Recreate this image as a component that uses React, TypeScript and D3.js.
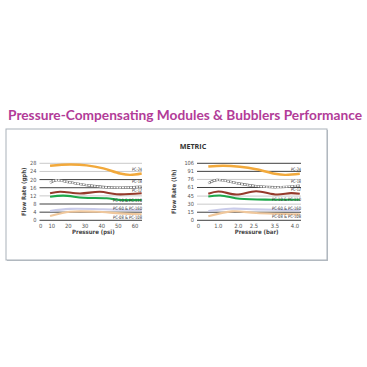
import React from 'react'
import * as d3 from 'd3'

// US chart: pressure (psi) vs flow (gph)
const psiTicks = [0, 10, 20, 30, 40, 50, 60]
const gphTicks = [0, 4, 8, 12, 16, 20, 24, 28]
const gphDark = [0, 4, 8, 16, 20]

// metric chart: pressure (bar) vs flow (l/h)
const barTicks = [0, 1.0, 2.0, 2.5, 3.5, 4.0]
const lhTicks = [0, 15, 30, 45, 61, 76, 91, 106]
const lhDark = [0, 15, 61, 91, 106]

const seriesNames = ['PC-24', 'PC-18', 'PC-12', 'PC-10 & PC-110', 'PC-60 & PC-160', 'PC-08 & PC-108']

// [psi, gph]
const pc24 = [[8.5, 26.8], [21, 27.4], [31, 27.0], [41, 25.5], [51, 23.0], [57, 22.3], [64, 23.0]]
const pc18 = [[8.5, 18.5], [12.5, 19.7], [21, 18.6], [31, 17.3], [43, 16.2], [55, 16.1], [64, 16.5]]
const pc12 = [[8.5, 13.3], [15, 14.0], [27, 13.2], [39, 14.0], [49, 12.8], [64, 13.3]]
const pc10 = [[8.5, 11.6], [17, 12.1], [29, 11.1], [43, 10.8], [51, 10.0], [64, 10.0]]
const pc60 = [[8.5, 4.6], [21, 5.6], [41, 5.4], [64, 4.9]]
const pc08 = [[8.5, 2.1], [21, 4.2], [37, 4.2], [51, 3.4], [64, 3.0]]

// [bar, l/h]
const pc24m = [[0.5, 100], [1.25, 101.5], [2.05, 99.5], [2.6, 95], [3.5, 86.5], [3.75, 84.5], [4.12, 86.5]]
const pc18m = [[0.5, 69], [0.92, 75], [2.05, 68], [2.6, 63.5], [3.55, 61.6], [4.12, 64.5]]
const pc12m = [[0.5, 49.4], [1.0, 53.6], [1.9, 48], [2.6, 54], [3.55, 48], [3.9, 50.5], [4.12, 49.4]]
const pc10m = [[0.5, 44.4], [1.1, 46.2], [2.05, 40], [3.4, 38.3], [4.12, 38.3]]
const pc60m = [[0.5, 17.2], [1.6, 21.6], [2.6, 20.3], [4.12, 18.5]]
const pc08m = [[0.5, 7.4], [1.7, 16.6], [2.6, 13.5], [4.12, 11]]

const usSeries = [pc24, pc18, pc12, pc10, pc60, pc08]
const metricSeries = [pc24m, pc18m, pc12m, pc10m, pc60m, pc08m]
const usLabelAt = [24, 18.1, 13.8, 8.8, 4.9, 0.8]
const metricLabelAt = [91.5, 69, 54, 35, 20, 5]

const colors = ['#f2a93b', '#ffffff', '#963a2c', '#1ea84b', '#c9cbe9', '#efc79c']

type ChartProps = {
  x: d3.ScaleLinear<number, number>
  y: d3.ScaleLinear<number, number>
  xTicks: number[]
  xFmt: (v: number) => string
  yTicks: number[]
  dark: number[]
  gridX0: number
  gridX1: number
  series: number[][][]
  labelAt: number[]
  yTitle: string
  xTitle: string
  yTitleX: number
}

function Chart(p: ChartProps) {
  const line = d3.line<number[]>()
    .x(d => p.x(d[0]))
    .y(d => p.y(d[1]))
    .curve(d3.curveCatmullRom.alpha(0.5))
  const y0 = p.y(0)
  const xMid = (p.x(p.xTicks[1]) + p.x(p.xTicks[p.xTicks.length - 1])) / 2
  const yTop = p.y(p.yTicks[p.yTicks.length - 1])
  return (
    <g fontFamily="'Liberation Sans Narrow', 'DejaVu Sans Condensed', sans-serif">
      {p.yTicks.map(t => (
        <g key={'g' + t}>
          <line x1={p.gridX0} x2={p.gridX1} y1={p.y(t)} y2={p.y(t)}
            stroke={p.dark.includes(t) ? '#2a2a2a' : '#c4c4c4'} strokeWidth={0.9} />
          <text x={p.gridX0 - 3} y={p.y(t)} dy="0.35em" textAnchor="end" fontSize={5.6} fill="#555">{t}</text>
        </g>
      ))}
      {p.series.map((s, i) => (
        i === 1 ? (
          <g key={'s' + i}>
            <path d={line(s) || ''} fill="none" stroke="#6a6a6a" strokeWidth={2.4} />
            <path d={line(s) || ''} fill="none" stroke="#fff" strokeWidth={1.5} strokeDasharray="2,0.8" />
          </g>
        ) : (
          <path key={'s' + i} d={line(s) || ''} fill="none" stroke={colors[i]}
            strokeWidth={i === 0 ? 2.4 : 2.1} />
        )
      ))}
      {seriesNames.map((n, i) => (
        <text key={'l' + n} x={p.gridX1} y={p.y(p.labelAt[i])} textAnchor="end" fontSize={4.6}
          fill="#333" textLength={n.length > 6 ? 29 : 10} lengthAdjust="spacingAndGlyphs">{n}</text>
      ))}
      {p.xTicks.map(t => (
        <text key={'x' + t} x={p.x(t)} y={y0 + 8} textAnchor="middle" fontSize={5.8} fill="#555">{p.xFmt(t)}</text>
      ))}
      <text x={xMid} y={y0 + 14} textAnchor="middle" fontSize={6} fontWeight="bold" fill="#444">{p.xTitle}</text>
      <text transform={`translate(${p.yTitleX},${(y0 + yTop) / 2}) rotate(-90)`}
        textAnchor="middle" fontSize={6} fontWeight="bold" fill="#444">{p.yTitle}</text>
    </g>
  )
}

export default function App() {
  const W = 367
  const H = 367
  const xUS = d3.scaleLinear().domain(psiTicks).range([40.7, 51.7, 68.3, 85, 101.7, 118.3, 135])
  const yUS = d3.scaleLinear().domain([0, 28]).range([220.3, 163.3])
  const xM = d3.scaleLinear().domain(barTicks).range([198.3, 218.3, 238.3, 254, 275, 295])
  const yM = d3.scaleLinear().domain([0, 106]).range([220.3, 163.3])

  return (
    <svg width={W} height={H} style={{ position: 'absolute', left: 0, top: 0, background: '#fff' }}>
      <text x={8} y={119.5} fontFamily="Lato, 'Noto Sans', sans-serif" fontWeight="bold" fontSize={13}
        fill="#b23c98" textLength={354} lengthAdjust="spacingAndGlyphs">
        Pressure-Compensating Modules &amp; Bubblers Performance
      </text>
      <rect x={7} y={130} width={321} height={131} fill="#b8bec4" />
      <rect x={6} y={129} width={321} height={131} fill="#fff" stroke="#a9b1b9" strokeWidth={1} />
      <text x={193} y={149} textAnchor="middle" fontFamily="'Open Sans', sans-serif" fontWeight="bold"
        fontSize={7.2} fill="#333">METRIC</text>
      <Chart x={xUS} y={yUS} xTicks={psiTicks} xFmt={v => String(v)} yTicks={gphTicks} dark={gphDark}
        gridX0={39.5} gridX1={142} series={usSeries} labelAt={usLabelAt}
        yTitle="Flow Rate (gph)" xTitle="Pressure (psi)" yTitleX={26} />
      <Chart x={xM} y={yM} xTicks={barTicks} xFmt={v => (v === 0 ? '0' : v.toFixed(1))} yTicks={lhTicks} dark={lhDark}
        gridX0={197} gridX1={301} series={metricSeries} labelAt={metricLabelAt}
        yTitle="Flow Rate (l/h)" xTitle="Pressure (bar)" yTitleX={176} />
    </svg>
  )
}
